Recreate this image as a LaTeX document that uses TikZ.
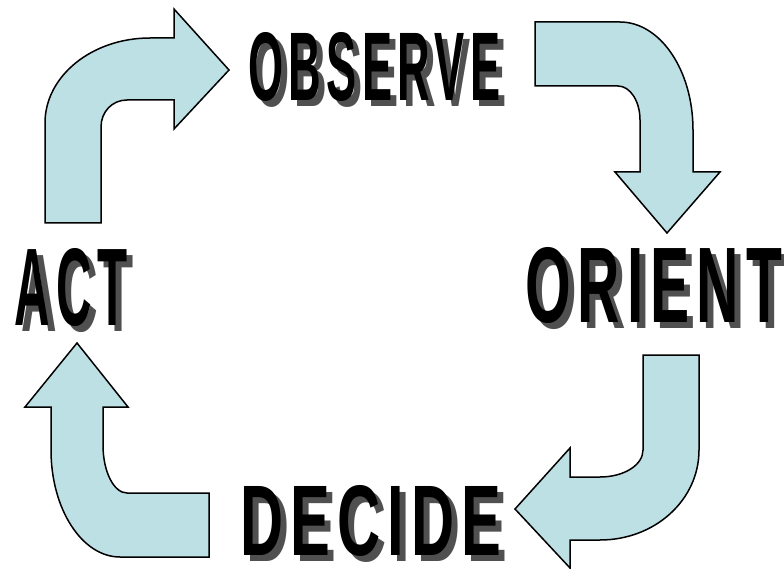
\documentclass[tikz,border=0pt]{standalone}
\usepackage{xcolor}
\usepackage{fontspec}
\setmainfont{Liberation Sans}
\newfontfamily\posterfont[LetterSpace=12]{Liberation Sans}
\usepackage{tikz}
\definecolor{pale}{RGB}{189,224,228}
\definecolor{shadowgray}{RGB}{80,80,80}
\tikzstyle{turn} = [draw=black, fill=pale, line width=1.5pt, line join=miter]
\tikzstyle{word} = [anchor=north west, inner sep=0pt, outer sep=0pt, font=\posterfont\bfseries, text=black]
\tikzstyle{shade} = [word, text=shadowgray]

\begin{document}
\begin{tikzpicture}[x=1pt, y=-1pt]
   \useasboundingbox (0,0) rectangle (784,569);
   % curved block arrows
   \path [turn] (45,223) -- (45,123) .. controls (45,76) and (92,38) .. (150,38) -- (174,38) -- (174,9) -- (229,70) -- (174,129) -- (174,100) -- (127,100) .. controls (112,100) and (101,112) .. (101,127) -- (101,223) -- cycle;
   \path [turn] (535,22) -- (620,22) .. controls (660,22) and (693,70) .. (693,130) -- (693,172) -- (720,172) -- (667,233) -- (615,172) -- (640,172) -- (640,120) .. controls (640,101) and (630,86) .. (618,86) -- (535,86) -- cycle;
   \path [turn] (643,355) -- (699,355) -- (699,450) .. controls (699,500) and (655,540) .. (600,540) -- (570,540) -- (570,568) -- (515,509) -- (570,448) -- (570,477) -- (600,477) .. controls (624,477) and (643,465) .. (643,450) -- cycle;
   \path [turn] (209,557) -- (120,557) .. controls (82,557) and (51,509) .. (51,450) -- (51,407) -- (25,407) -- (77,343) -- (128,407) -- (103,407) -- (103,445) .. controls (103,472) and (114,493) .. (127,493) -- (209,493) -- cycle;
   % words with drop shadow
   \node (observe-sh) [shade] at (254,38) {\resizebox{247pt}{68pt}{OBSERVE\kern-.12em}};
   \node (observe) [word] at (248,32) {\resizebox{247pt}{68pt}{OBSERVE\kern-.12em}};
   \node (orient-sh) [shade] at (531,253) {\resizebox{250pt}{75pt}{ORIENT\kern-.12em}};
   \node (orient) [word] at (525,247) {\resizebox{250pt}{75pt}{ORIENT\kern-.12em}};
   \node (decide-sh) [shade] at (246,491) {\resizebox{254pt}{70pt}{DECIDE\kern-.12em}};
   \node (decide) [word] at (240,485) {\resizebox{254pt}{70pt}{DECIDE\kern-.12em}};
   \node (act-sh) [shade] at (21,254) {\resizebox{107pt}{77pt}{ACT\kern-.12em}};
   \node (act) [word] at (15,248) {\resizebox{107pt}{77pt}{ACT\kern-.12em}};
\end{tikzpicture}
\end{document}
